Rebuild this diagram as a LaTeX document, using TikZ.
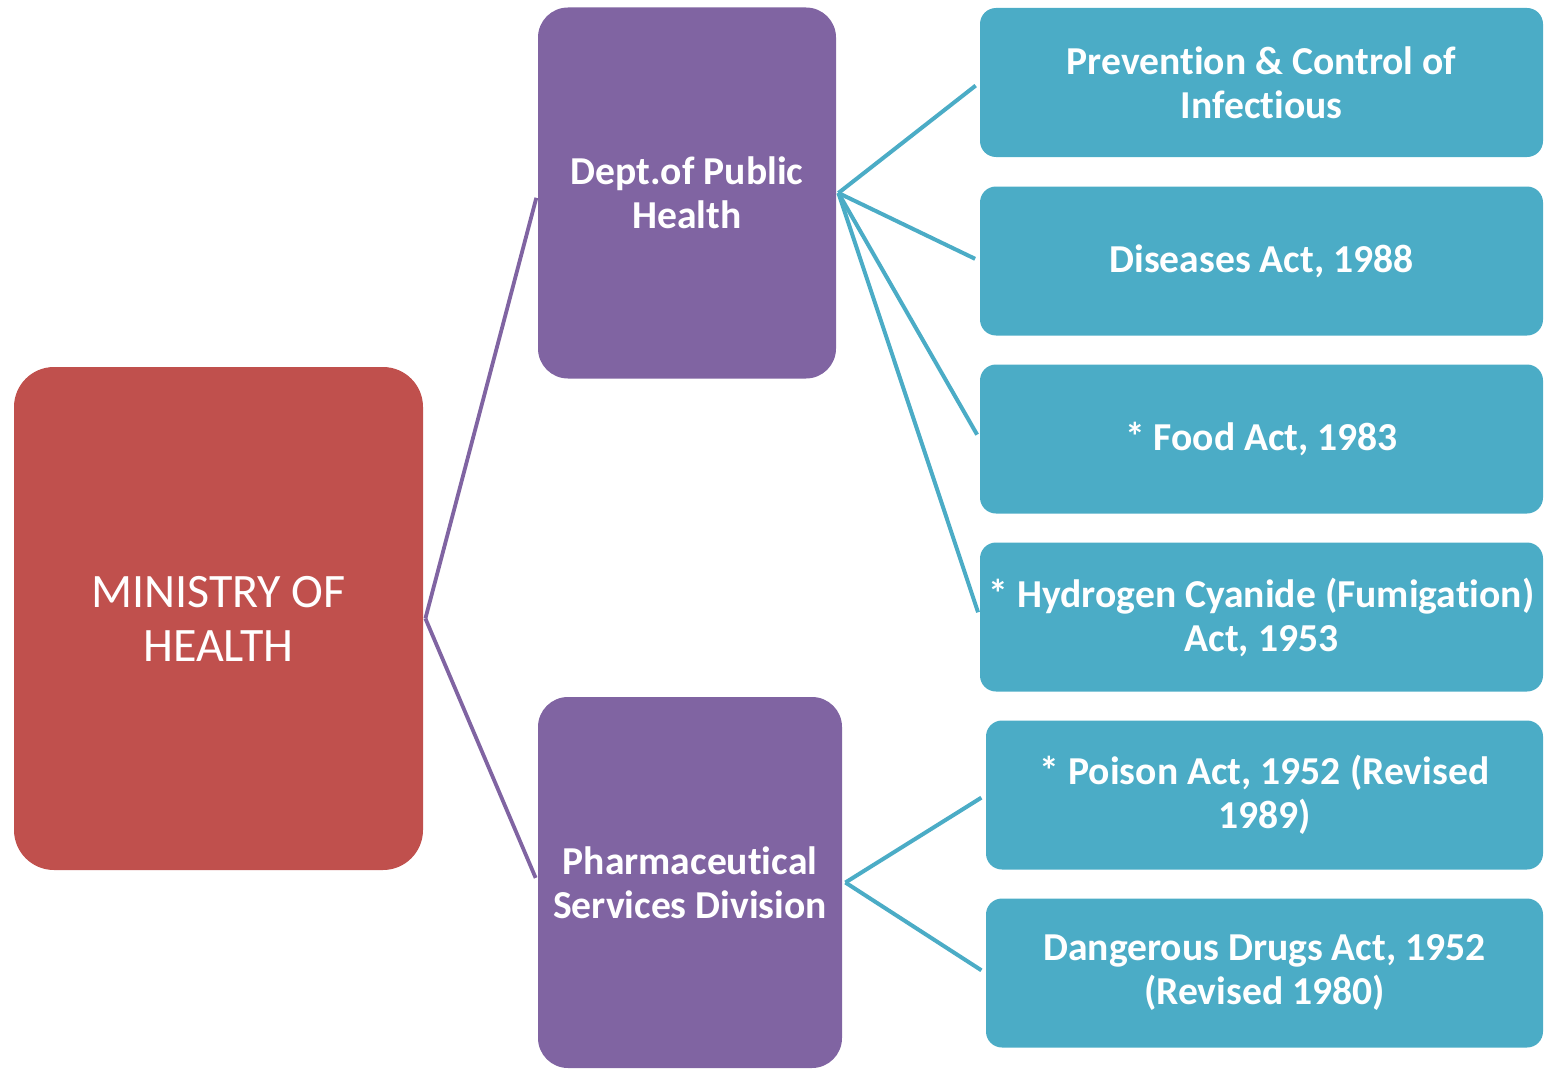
\documentclass[tikz,border=0pt]{standalone}
\usepackage{fontspec}
\setmainfont{Carlito}[Ligatures=CommonOff]
\definecolor{ministryred}{HTML}{C0504D}
\definecolor{deptpurple}{HTML}{8064A2}
\definecolor{actblue}{HTML}{4BACC6}
\tikzset{
  ministry/.style={fill=ministryred, text=white, rounded corners=20pt, align=center,
    minimum width=204.5pt, minimum height=251.5pt, font=\fontsize{24}{27}\selectfont},
  dept/.style={fill=deptpurple, text=white, rounded corners=15pt, align=center,
    minimum height=185.5pt, font=\fontsize{19.8}{22}\selectfont\bfseries},
  act/.style={fill=actblue, text=white, rounded corners=8pt, align=center,
    minimum height=74.5pt, inner sep=0pt, font=\fontsize{19.8}{22}\selectfont\bfseries},
  deptline/.style={draw=deptpurple, line width=1.9pt},
  actline/.style={draw=actblue, line width=2pt, shorten >=2.5pt}
}
\begin{document}
\begin{tikzpicture}[x=0.5pt,y=-0.5pt]
  \useasboundingbox (0,0) rectangle (1547,1070);

  %%%%% BOXES %%%%%
  \node[ministry] (moh) at (218.5, 618.5) {MINISTRY OF\\HEALTH};

  \node[dept, minimum width=149pt] (dph) at (687, 193) {Dept.of Public\\Health};
  \node[dept, minimum width=152pt] (psd) at (690, 882.5) {Pharmaceutical\\Services Division};

  \node[act, minimum width=281.5pt] (infect) at (1261.5, 82.5) {Prevention \& Control of\\Infectious};
  \node[act, minimum width=281.5pt] (disease) at (1261.5, 261) {Diseases Act, 1988};
  \node[act, minimum width=281.5pt] (food) at (1261.5, 439) {* Food Act, 1983};
  \node[act, minimum width=281.5pt] (cyanide) at (1261.5, 617) {* Hydrogen Cyanide (Fumigation)\\Act, 1953};
  \node[act, minimum width=278.5pt] (poison) at (1264.5, 795) {* Poison Act, 1952 (Revised\\1989)};
  \node[act, minimum width=278.5pt] (drugs) at (1264.5, 973) {Dangerous Drugs Act, 1952\\(Revised 1980)};

  %%%%% LINES %%%%%
  \draw[deptline, shorten >=2.5pt] ([xshift=1pt]moh.east) -- (dph.west);
  \draw[deptline, shorten >=2.5pt] ([xshift=1pt]moh.east) -- (psd.west);

  \foreach \a in {infect,disease,food,cyanide}
    \draw[actline] ([xshift=1pt]dph.east) -- (\a.west);
  \foreach \a in {poison,drugs}
    \draw[actline] ([xshift=1.5pt]psd.east) -- (\a.west);
\end{tikzpicture}
\end{document}
